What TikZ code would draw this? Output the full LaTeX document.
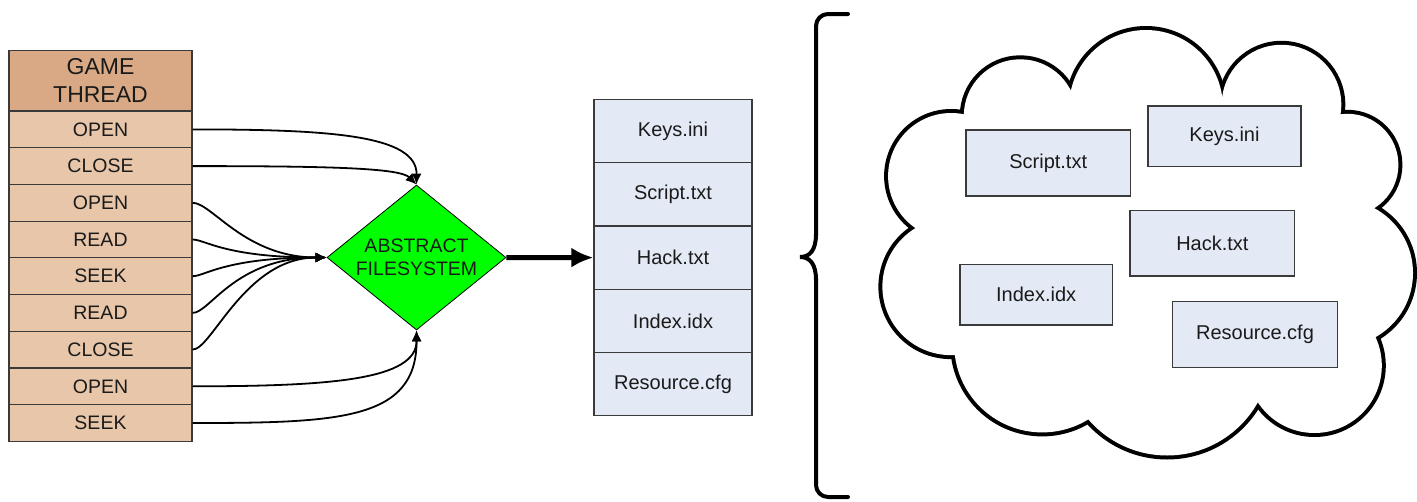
\documentclass[tikz,border=0pt]{standalone}
\usepackage{fontspec}
\setmainfont{Liberation Sans}
\usetikzlibrary{shapes.geometric,arrows.meta}
\definecolor{hdr}{HTML}{D9A985}
\definecolor{rowc}{HTML}{E8C6A9}
\definecolor{filec}{HTML}{E4EAF5}
\definecolor{fsgreen}{HTML}{00FF00}
\definecolor{txt}{HTML}{1A1A1A}
\definecolor{edge}{HTML}{3A3A3A}
\begin{document}
\begin{tikzpicture}[x=1pt,y=-1pt,
  hdrbox/.style={draw=edge, fill=hdr, line width=1.2pt, minimum width=183pt, minimum height=60.3pt, inner sep=0pt, align=center, text=txt, font=\fontsize{23}{28}\selectfont},
  rowbox/.style={draw=edge, fill=rowc, line width=1.2pt, minimum width=183pt, minimum height=36.7pt, inner sep=0pt, text=txt, font=\fontsize{19.5}{23}\selectfont},
  filebox/.style={draw=edge, fill=filec, line width=1.2pt, inner sep=0pt, text=txt, font=\fontsize{20}{24}\selectfont},
  conn/.style={line width=1.8pt, -{Latex[length=11pt,width=10pt]}},
  fsnode/.style={diamond, draw=black, line width=0.8pt, fill=fsgreen, inner sep=0pt, aspect=1.234, minimum width=179pt, minimum height=145pt, align=center, text=txt, font=\fontsize{19.5}{23}\selectfont}
]
\useasboundingbox (0,0) rectangle (1417,501);

% game thread column
\node[hdrbox] (hdr) at (100.5,80.9) {GAME\\THREAD};
\node[rowbox] (r1) at (100.5,129.4) {OPEN};
\node[rowbox] (r2) at (100.5,166.1) {CLOSE};
\node[rowbox] (r3) at (100.5,202.8) {OPEN};
\node[rowbox] (r4) at (100.5,239.5) {READ};
\node[rowbox] (r5) at (100.5,276.2) {SEEK};
\node[rowbox] (r6) at (100.5,312.9) {READ};
\node[rowbox] (r7) at (100.5,349.6) {CLOSE};
\node[rowbox] (r8) at (100.5,386.3) {OPEN};
\node[rowbox] (r9) at (100.5,423.0) {SEEK};

% abstract filesystem
\node[fsnode] (fs) at (416.5,257.5) {ABSTRACT\\FILESYSTEM};

% connectors
\draw[conn] (r1.east) .. controls (330,129.4) and (417,135) .. (fs.north);
\draw[conn] (r2.east) .. controls (330,166.1) and (400,168) .. (fs.north);
\draw[conn] (r3.east) .. controls (212,202.8) and (245,257.5) .. (fs.west);
\draw[conn] (r4.east) .. controls (205,239.5) and (225,257.5) .. (fs.west);
\draw[conn] (r5.east) .. controls (205,276.2) and (225,257.5) .. (fs.west);
\draw[conn] (r6.east) .. controls (210,312.9) and (235,257.5) .. (fs.west);
\draw[conn] (r7.east) .. controls (212,349.6) and (245,257.5) .. (fs.west);
\draw[conn] (r8.east) .. controls (330,386.3) and (417,380) .. (fs.south);
\draw[conn] (r9.east) .. controls (340,423) and (417,420) .. (fs.south);

% file stack
\node[filebox, minimum width=158pt, minimum height=63.3pt] (s1) at (673,131.0) {Keys.ini};
\node[filebox, minimum width=158pt, minimum height=63.3pt] (s2) at (673,194.3) {Script.txt};
\node[filebox, minimum width=158pt, minimum height=63.3pt] (s3) at (673,257.6) {Hack.txt};
\node[filebox, minimum width=158pt, minimum height=63.3pt] (s4) at (673,320.9) {Index.idx};
\node[filebox, minimum width=158pt, minimum height=63.3pt] (s5) at (673,384.2) {Resource.cfg};

\draw[line width=5pt, -{Latex[length=22pt,width=20pt]}] (fs.east) -- (s3.west);

% brace
\draw[line width=4pt, line cap=round, rounded corners=12pt]
  (848,14) -- (816,14) -- (816,236);
\draw[line width=4pt, line cap=round]
  (816,234) .. controls (816,250) and (810,257) .. (800,257)
  .. controls (810,257) and (816,264) .. (816,280);
\draw[line width=4pt, line cap=round, rounded corners=12pt]
  (816,278) -- (816,497) -- (848,497);

% cloud: union of lobes
\foreach \cx/\cy/\rr in {1020.3/115.8/56.5, 1146/106.8/76.8, 1281.5/104.6/59.8,
    1347.4/164.8/51, 1339.4/273/73.6, 1314.4/365.6/67.4, 1167.1/351.5/104,
    1042.2/344.4/88, 950.8/286.7/68.4, 951.2/176.1/63.1}
  \draw[line width=8pt] (\cx,\cy) circle[radius=\rr pt];
\foreach \cx/\cy/\rr in {1020.3/115.8/56.5, 1146/106.8/76.8, 1281.5/104.6/59.8,
    1347.4/164.8/51, 1339.4/273/73.6, 1314.4/365.6/67.4, 1167.1/351.5/104,
    1042.2/344.4/88, 950.8/286.7/68.4, 951.2/176.1/63.1}
  \fill[white] (\cx,\cy) circle[radius=\rr pt];
\fill[white] (1020.3,115.8) -- (1146,106.8) -- (1281.5,104.6) -- (1347.4,164.8)
  -- (1339.4,273) -- (1314.4,365.6) -- (1167.1,351.5) -- (1042.2,344.4)
  -- (950.8,286.7) -- (951.2,176.1) -- cycle;

% cloud files
\node[filebox, minimum width=164.4pt, minimum height=66pt] (cs) at (1048.2,163) {Script.txt};
\node[filebox, minimum width=153pt, minimum height=60.7pt] (ck) at (1224.5,136.3) {Keys.ini};
\node[filebox, minimum width=164.8pt, minimum height=65.3pt] (ch) at (1212.4,243.3) {Hack.txt};
\node[filebox, minimum width=152.4pt, minimum height=60.7pt] (ci) at (1036.2,294.7) {Index.idx};
\node[filebox, minimum width=164.4pt, minimum height=66pt] (cr) at (1255,334.7) {Resource.cfg};
\end{tikzpicture}
\end{document}
